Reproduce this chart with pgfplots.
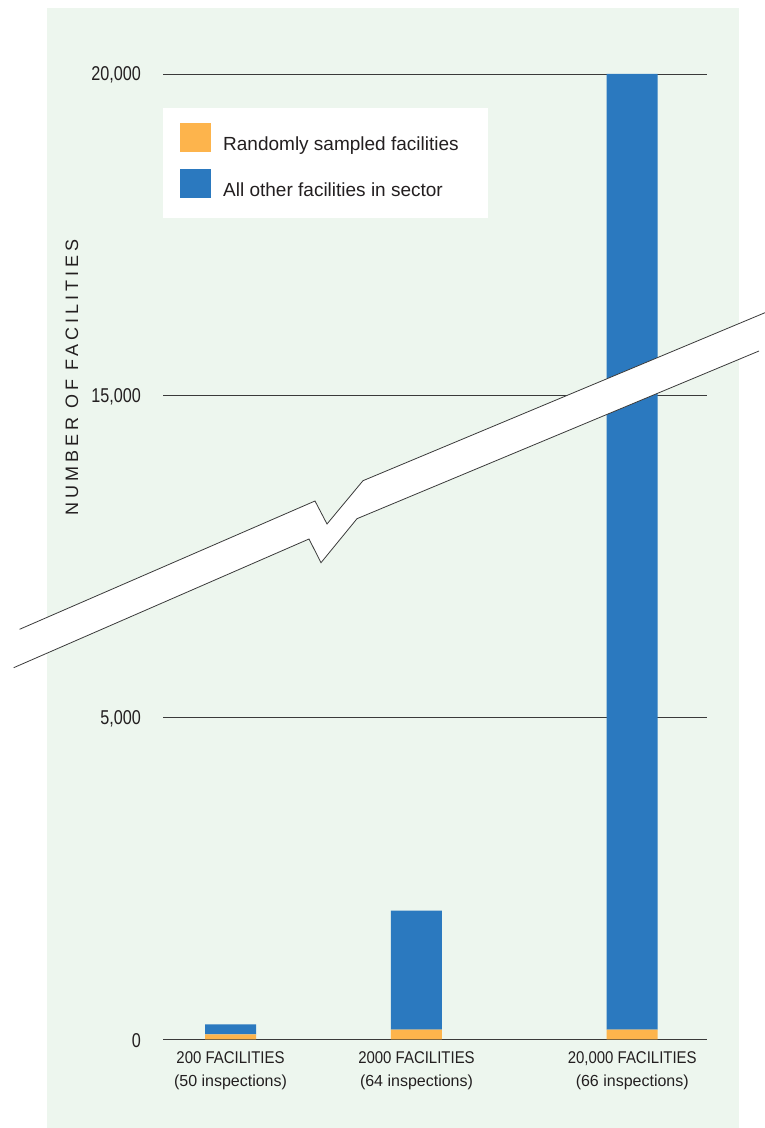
\documentclass[border=0pt]{standalone}
\usepackage{fontspec}
\setmainfont{Liberation Sans}
\newfontfamily\condfont[FakeStretch=0.81]{Liberation Sans}
\newfontfamily\xlabfont[FakeStretch=0.88]{Liberation Sans}
\newfontfamily\spacedfont[LetterSpace=22]{Liberation Sans}
\usepackage{pgfplots}
\pgfplotsset{compat=1.18}
\usepackage{pgfplotstable}
\definecolor{panelgreen}{HTML}{EDF6EE}
\definecolor{barblue}{HTML}{2B79BF}
\definecolor{barorange}{HTML}{FDB44C}
\definecolor{txt}{HTML}{231F20}
\definecolor{gridc}{HTML}{3A3A3A}

\pgfplotstableread{
x sampled other
0 75 155
1 150 1850
2.16 150 19850
}\datatable

\pgfplotsset{
  tallimage/.style={legend image code/.code={\fill[##1] (0pt,-7.5pt) rectangle (31pt,21.5pt); \path (0pt,-12.5pt);}}
}

\begin{document}
\begin{tikzpicture}[x=1pt,y=1pt]
\useasboundingbox (0,0) rectangle (765,1128);
\fill[panelgreen] (47,0) rectangle (739,1120);
\begin{axis}[
  at={(163pt,88.7pt)}, anchor=south west,
  scale only axis, width=544pt, height=965.3pt,
  xmin=-0.363, xmax=2.562, ymin=0, ymax=3,
  ybar stacked, bar width=51pt,
  y filter/.expression={y<=5000 ? y/5000 : (y<=15000 ? 1+(y-5000)/10000 : 2+(y-15000)/5000)},
  axis x line*=bottom, axis y line*=left,
  y axis line style={draw=none},
  x axis line style={line width=1.5pt, color=gridc, -},
  major tick length=0pt,
  ymajorgrids, grid style={line width=0.8pt, color=gridc},
  ytick={0,1,2,3},
  yticklabels={0,{5,000},{15,000},{20,000}},
  yticklabel style={font=\condfont\fontsize{20}{20}\selectfont, text=txt, inner sep=0pt, xshift=-22pt, yshift=-1pt},
  xtick={0,1,2.16},
  xticklabels={
    {{\xlabfont 200 FACILITIES}\\{\fontsize{16}{22.7}\selectfont (50 inspections)}},
    {{\xlabfont 2000 FACILITIES}\\{\fontsize{16}{22.7}\selectfont (64 inspections)}},
    {{\xlabfont 20,000 FACILITIES}\\{\fontsize{16}{22.7}\selectfont (66 inspections)}}},
  xticklabel style={align=center, anchor=north, inner sep=0pt, yshift=-12pt, text=txt,
    font=\fontsize{17}{22.7}\selectfont},
  ylabel={\spacedfont\fontsize{18}{18}\selectfont NUMBER OF FACILITIES},
  ylabel style={at={(rel axis cs:-0.1673,0.6856)}, anchor=center, text=txt},
  legend style={at={(rel axis cs:0,1)}, anchor=north west, yshift=-34pt,
    fill=white, draw=none, inner xsep=17pt, inner ysep=15pt, row sep=16.5pt,
    nodes={inner sep=0pt}, font=\fontsize{19}{19}\selectfont, text=txt,
    /tikz/every odd column/.append style={column sep=12pt}},
  legend cell align=left,
  legend image code/.code={\fill[#1] (0pt,-7.5pt) rectangle (31pt,21.5pt);},
]
\addplot[fill=barorange, draw=none] table[x=x, y=sampled]{\datatable};
\addlegendentry{Randomly sampled facilities\hspace*{12pt}}
\addplot[fill=barblue, draw=none, tallimage] table[x=x, y=other]{\datatable};
\addlegendentry{All other facilities in sector}
\end{axis}
% axis break band
\fill[white] (19.6,498.7) -- (315,627) -- (327,604) -- (363,647.3) -- (765,815.3)
  -- (759,777) -- (357,609.3) -- (321,565.3) -- (309,589) -- (13.7,460.3) -- cycle;
\draw[line width=0.8pt, gridc] (19.6,498.7) -- (315,627) -- (327,604) -- (363,647.3) -- (765,815.3);
\draw[line width=0.8pt, gridc] (13.7,460.3) -- (309,589) -- (321,565.3) -- (357,609.3) -- (759,777);
\end{tikzpicture}
\end{document}
